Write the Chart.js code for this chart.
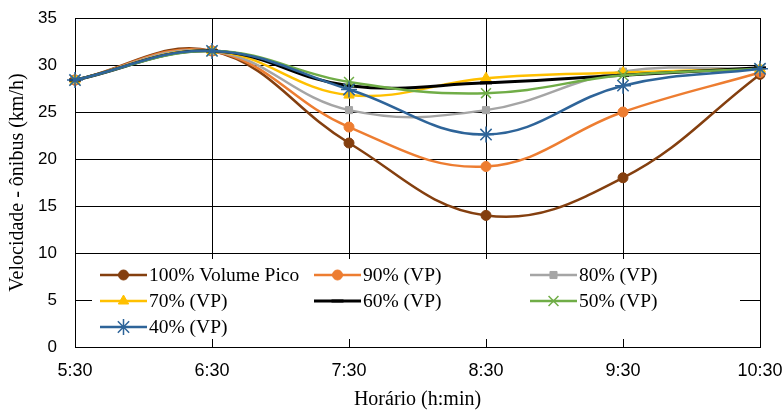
<!DOCTYPE html>
<html>
<head>
<meta charset="utf-8">
<script src="https://cdn.jsdelivr.net/npm/chart.js@4"></script>
<style>
  html, body { margin: 0; padding: 0; background: #fff; }
  #wrap { width: 784px; height: 413px; }
</style>
</head>
<body>
<div id="wrap"><canvas id="chart" width="784" height="413"></canvas></div>
<script>
const horarios = ['5:30', '6:30', '7:30', '8:30', '9:30', '10:30'];
const seriesNames = ['100% Volume Pico', '90% (VP)', '80% (VP)', '70% (VP)', '60% (VP)', '50% (VP)', '40% (VP)'];

const vp100 = [28.4, 31.5, 21.7, 14.0, 18.0, 29.0];
const vp90 = [28.4, 31.5, 23.4, 19.2, 25.0, 29.2];
const vp80 = [28.4, 31.5, 25.2, 25.2, 29.3, 29.6];
const vp70 = [28.4, 31.5, 26.8, 28.6, 29.2, 29.6];
const vp60 = [28.4, 31.5, 27.8, 28.1, 28.9, 29.7];
const vp50 = [28.4, 31.5, 28.2, 27.0, 28.9, 29.6];
const vp40 = [28.4, 31.5, 27.4, 22.6, 27.8, 29.6];

const seriesValues = [vp100, vp90, vp80, vp70, vp60, vp50, vp40];

// look of each series, same order as seriesNames
const STYLES = [
  { color: '#843F0F', point: 'circle', radius: 5, border: 1, width: 2.5 },
  { color: '#ED7D31', point: 'circle', radius: 5, border: 1, width: 2.5 },
  { color: '#A5A5A5', point: 'rect', radius: 5, border: 1, width: 2.5 },
  { color: '#FFC000', point: 'triangle', radius: 6, border: 1, width: 2.5 },
  { color: '#000000', point: 'line', radius: 6, border: 3, width: 3 },
  { color: '#70AD47', point: 'crossRot', radius: 7, border: 1.5, width: 2.5 },
  { color: '#2E6499', point: 'star', radius: 8, border: 1.5, width: 2.5 },
];

const SERIF = '"Liberation Serif", "Times New Roman", serif';
const SANS = '"Liberation Sans", Arial, sans-serif';

const datasets = seriesNames.map((name, i) => {
  const s = STYLES[i];
  return {
    label: name,
    data: seriesValues[i],
    borderColor: s.color,
    backgroundColor: s.color,
    borderWidth: s.width,
    pointStyle: s.point,
    pointRadius: s.radius,
    pointBorderWidth: s.border,
    pointBackgroundColor: s.color,
    pointBorderColor: s.color,
    tension: 0.4,
    clip: false,
    order: seriesNames.length - i,
  };
});

// legend drawn inside the plot, on a white box, like the original sheet chart
const insideLegend = {
  id: 'insideLegend',
  beforeDatasetsDraw(chart) {
    const ctx = chart.ctx;
    const box = { x: 92, y: 259, w: 648, h: 80 };
    const cols = [100, 314, 530];
    const rows = [275, 301, 327];
    const lineLen = 47;

    ctx.save();
    ctx.fillStyle = '#fff';
    ctx.fillRect(box.x, box.y, box.w, box.h);

    seriesNames.forEach((name, i) => {
      const s = STYLES[i];
      const x = cols[i % 3];
      const y = rows[Math.floor(i / 3)];

      ctx.strokeStyle = s.color;
      ctx.lineWidth = s.width;
      ctx.beginPath();
      ctx.moveTo(x, y);
      ctx.lineTo(x + lineLen, y);
      ctx.stroke();

      ctx.fillStyle = s.color;
      ctx.lineWidth = s.border;
      Chart.helpers.drawPoint(ctx, {
        pointStyle: s.point,
        rotation: 0,
        radius: s.radius,
        borderWidth: s.border,
      }, x + lineLen / 2, y);

      ctx.fillStyle = '#000';
      ctx.font = '19.5px ' + SERIF;
      ctx.textBaseline = 'middle';
      ctx.textAlign = 'left';
      ctx.fillText(name, x + lineLen + 2, y + 1);
    });
    ctx.restore();
  },
};

new Chart(document.getElementById('chart'), {
  type: 'line',
  data: { labels: horarios, datasets },
  options: {
    responsive: false,
    animation: false,
    layout: { autoPadding: false, padding: { top: 18, right: 24, bottom: 0, left: 0 } },
    plugins: {
      legend: { display: false },
      tooltip: { enabled: false },
    },
    scales: {
      x: {
        offset: false,
        grid: { color: '#000', lineWidth: 1, tickLength: 0, drawTicks: false },
        border: { color: '#000', width: 1 },
        ticks: { color: '#000', font: { family: SANS, size: 18 }, padding: 13, maxRotation: 0 },
        title: {
          display: true,
          text: 'Horário (h:min)',
          color: '#000',
          font: { family: SERIF, size: 20 },
          padding: { top: 4, bottom: 1 },
        },
        afterFit(scale) {
          scale.height = 66;
          scale.paddingLeft = 0;
          scale.paddingRight = 0;
        },
      },
      y: {
        min: 0,
        max: 35,
        ticks: { stepSize: 5, color: '#000', font: { family: SANS, size: 17 }, padding: 18 },
        grid: { color: '#000', lineWidth: 1, tickLength: 0, drawTicks: false },
        border: { color: '#000', width: 1 },
        title: {
          display: true,
          text: 'Velocidade - ônibus (km/h)',
          color: '#000',
          font: { family: SERIF, size: 20 },
          padding: { top: 6, bottom: 8 },
        },
        afterFit(scale) {
          scale.width = 75;
          scale.paddingTop = 0;
          scale.paddingBottom = 0;
        },
      },
    },
  },
  plugins: [insideLegend],
});
</script>
</body>
</html>
